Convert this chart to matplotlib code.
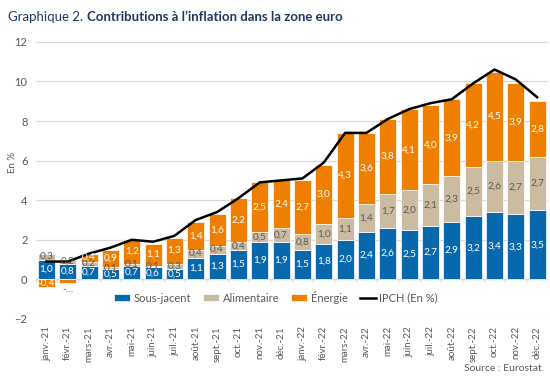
import matplotlib
matplotlib.use("Agg")
import matplotlib.pyplot as plt
import numpy as np

months = ["janv.-21", "févr.-21", "mars-21", "avr.-21", "mai-21", "juin-21", "juil.-21",
          "août-21", "sept.-21", "oct.-21", "nov.-21", "déc.-21", "janv.-22", "févr.-22",
          "mars-22", "avr.-22", "mai-22", "juin-22", "juil.-22", "août-22", "sept.-22",
          "oct.-22", "nov.-22", "déc.-22"]
sous_jacent = [1.0, 0.8, 0.7, 0.5, 0.7, 0.6, 0.5, 1.1, 1.3, 1.5, 1.9, 1.9, 1.5, 1.8,
               2.0, 2.4, 2.6, 2.5, 2.7, 2.9, 3.2, 3.4, 3.3, 3.5]
alimentaire = [0.3, 0.2, 0.2, 0.1, 0.1, 0.1, 0.3, 0.4, 0.4, 0.4, 0.5, 0.7, 0.8, 1.0,
               1.1, 1.4, 1.7, 2.0, 2.1, 2.3, 2.5, 2.6, 2.7, 2.7]
energie = [-0.4, -0.2, 0.4, 0.9, 1.2, 1.1, 1.3, 1.4, 1.6, 2.2, 2.5, 2.4, 2.7, 3.0,
           4.3, 3.6, 3.8, 4.1, 4.0, 3.9, 4.2, 4.5, 3.9, 2.8]
ipch = [0.9, 0.9, 1.3, 1.6, 2.0, 1.9, 2.2, 3.0, 3.4, 4.1, 4.9, 5.0, 5.1, 5.9,
        7.4, 7.4, 8.1, 8.6, 8.9, 9.1, 9.9, 10.6, 10.1, 9.2]

C_BLUE = "#0868AC"
C_TAN = "#CBBBA0"
C_ORANGE = "#EF7F00"
C_NAVY = "#1F3864"
C_GREY = "#595959"

plt.rcParams['font.family'] = ['Lato', 'DejaVu Sans']

fig = plt.figure(figsize=(5.5, 3.77), dpi=100)
ax = fig.add_axes([0.065, 0.154, 0.931, 0.735])

x = np.arange(len(months))
sj = np.array(sous_jacent)
al = np.array(alimentaire)
en = np.array(energie)
w = 0.8

b1 = ax.bar(x, sj, w, color=C_BLUE, label="Sous-jacent", zorder=2, edgecolor="white", linewidth=0.5)
b2 = ax.bar(x, al, w, bottom=sj, color=C_TAN, label="Alimentaire", zorder=2, edgecolor="white", linewidth=0.5)
en_bottom = np.where(en >= 0, sj + al, 0)
b3 = ax.bar(x, en, w, bottom=en_bottom, color=C_ORANGE, label="Énergie", zorder=2, edgecolor="white", linewidth=0.5)
l1, = ax.plot(x, ipch, color="black", lw=1.8, label="IPCH (En %)", zorder=4)

def fmt(v):
    return f"{v:.1f}".replace(".", ",")

fs = 7.2
for i in x:
    ax.text(i, sj[i] / 2, fmt(sj[i]), ha="center", va="center", color="white", fontsize=fs, zorder=5)
    ax.text(i, sj[i] + al[i] / 2, fmt(al[i]), ha="center", va="center", color=C_GREY, fontsize=fs, zorder=5)
    if en[i] >= 0:
        ax.text(i, sj[i] + al[i] + en[i] / 2, fmt(en[i]), ha="center", va="center", color="white", fontsize=fs, zorder=5)
    elif en[i] <= -0.3:
        ax.text(i, en[i] / 2, fmt(en[i]), ha="center", va="center", color="white", fontsize=fs, zorder=5)
    else:
        ax.text(i, en[i] - 0.3, "-…", ha="center", va="center", color=C_GREY, fontsize=fs, zorder=5)

ax.set_ylim(-2, 12)
ax.set_xlim(-0.5, len(months) - 0.5)
ax.set_yticks(np.arange(-2, 13, 2))
ax.yaxis.grid(True, color="#D9D9D9", lw=0.9, zorder=0)
ax.set_axisbelow(True)
for s in ax.spines.values():
    s.set_visible(False)
ax.axhline(0, color="#D9D9D9", lw=0.9, zorder=1)
ax.vlines(np.arange(-0.5, len(months) + 0.5, 1), -0.15, 0, color="#D9D9D9", lw=0.9, zorder=1)

ax.tick_params(axis="y", length=0, labelsize=8, labelcolor=C_GREY, pad=6)
ax.set_xticks(x)
ax.set_xticklabels(months, rotation=90, fontsize=7, color=C_GREY)
ax.tick_params(axis="x", length=0, pad=5)
fig.text(0.022, 0.57, "En %", fontsize=7, color=C_GREY, rotation=90, ha="center", va="center")

leg = fig.legend([b1, b2, b3, l1], ["Sous-jacent", "Alimentaire", "Énergie", "IPCH (En %)"],
                 loc="center", bbox_to_anchor=(0.502, 0.212), ncol=4, frameon=False,
                 fontsize=8, handlelength=1.4, handleheight=0.5, columnspacing=1.1,
                 handletextpad=0.35)
for t in leg.get_texts():
    t.set_color(C_GREY)

t1 = fig.text(0.015, 0.955, "Graphique 2. ", fontsize=9.5, color=C_NAVY, va="center", ha="left")
fig.canvas.draw()
bb = t1.get_window_extent(renderer=fig.canvas.get_renderer())
x2 = bb.x1 / fig.bbox.width
fig.text(x2, 0.955, "Contributions à l’inflation dans la zone euro", fontsize=9.5,
         color=C_NAVY, va="center", ha="left", fontweight="bold")
fig.text(0.99, 0.022, "Source : Eurostat.", fontsize=7.5, color=C_GREY, ha="right", va="center")

fig.savefig("out.png", dpi=100)
